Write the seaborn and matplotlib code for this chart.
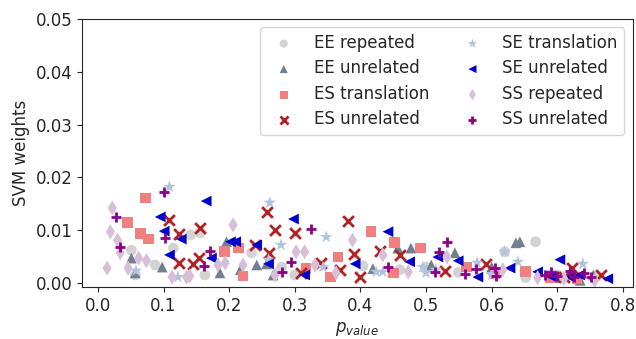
import matplotlib
matplotlib.use("Agg")
import matplotlib.pyplot as plt
import seaborn as sns
import pandas as pd

sns.set_style("ticks")
plt.rcParams['font.family'] = ['DejaVu Sans']
plt.rcParams['font.size'] = 12

# ----------------------------------------------------------------------------
# Data
# ----------------------------------------------------------------------------
ee_rep_x = [0.051, 0.057, 0.087, 0.115, 0.141, 0.156, 0.163, 0.234, 0.28, 0.30,
            0.404, 0.46, 0.50, 0.549, 0.62, 0.667, 0.652, 0.70, 0.73, 0.76]
ee_rep_y = [0.0062, 0.0015, 0.0034, 0.0066, 0.0091, 0.0095, 0.0015, 0.0057, 0.0030, 0.0015,
            0.0032, 0.0025, 0.0030, 0.0020, 0.0059, 0.0078, 0.0010, 0.0015, 0.0005, 0.0012]

ee_unr_x = [0.051, 0.057, 0.098, 0.186, 0.196, 0.217, 0.242, 0.257, 0.267, 0.419,
            0.457, 0.477, 0.508, 0.544, 0.637, 0.643, 0.60, 0.70, 0.735, 0.755]
ee_unr_y = [0.0047, 0.0019, 0.0030, 0.0019, 0.0078, 0.0025, 0.0034, 0.0036, 0.0015, 0.0027,
            0.0066, 0.0066, 0.0034, 0.0057, 0.0076, 0.0078, 0.0030, 0.0010, 0.0005, 0.0015]

es_tr_x = [0.045, 0.065, 0.072, 0.077, 0.193, 0.214, 0.221, 0.317, 0.354, 0.366,
           0.416, 0.45, 0.452, 0.492, 0.562, 0.605, 0.652, 0.69, 0.73]
es_tr_y = [0.0114, 0.0093, 0.0161, 0.0083, 0.0059, 0.0066, 0.0013, 0.0028, 0.0011, 0.0049,
           0.0098, 0.0019, 0.0076, 0.0066, 0.0030, 0.0017, 0.0021, 0.0010, 0.0008]

es_unr_x = [0.109, 0.123, 0.124, 0.145, 0.154, 0.156, 0.24, 0.257, 0.26, 0.27,
            0.30, 0.31, 0.34, 0.369, 0.381, 0.39, 0.40, 0.43, 0.46, 0.529,
            0.591, 0.71, 0.723, 0.766]
es_unr_y = [0.0119, 0.0093, 0.0038, 0.0036, 0.0047, 0.0104, 0.0072, 0.0134, 0.0057, 0.0100,
            0.0095, 0.0019, 0.0038, 0.0025, 0.0117, 0.0055, 0.0011, 0.0061, 0.0053, 0.0023,
            0.0036, 0.0012, 0.0028, 0.0015]

se_tr_x = [0.058, 0.109, 0.122, 0.26, 0.262, 0.279, 0.343, 0.348, 0.424, 0.434,
           0.495, 0.50, 0.515, 0.578, 0.60, 0.62, 0.64, 0.69, 0.739]
se_tr_y = [0.0023, 0.0182, 0.0011, 0.0044, 0.0152, 0.0072, 0.0030, 0.0087, 0.0021, 0.0021,
           0.0030, 0.0019, 0.0025, 0.0038, 0.0015, 0.0059, 0.0040, 0.0020, 0.0036]

se_unr_x = [0.095, 0.101, 0.109, 0.127, 0.165, 0.173, 0.202, 0.21, 0.242, 0.26,
            0.298, 0.315, 0.392, 0.442, 0.475, 0.518, 0.549, 0.579, 0.628, 0.67,
            0.69, 0.704, 0.719, 0.734, 0.777]
se_unr_y = [0.0125, 0.0098, 0.0053, 0.0083, 0.0155, 0.0047, 0.0078, 0.0078, 0.0072, 0.0036,
            0.0121, 0.0015, 0.0036, 0.0097, 0.0040, 0.0049, 0.0042, 0.0011, 0.0028, 0.0021,
            0.0012, 0.0044, 0.0011, 0.0015, 0.0008]

ss_rep_x = [0.014, 0.019, 0.022, 0.030, 0.034, 0.046, 0.062, 0.074, 0.113, 0.135,
            0.14, 0.183, 0.194, 0.206, 0.221, 0.27, 0.302, 0.315, 0.331, 0.363,
            0.388, 0.434, 0.473, 0.532, 0.617, 0.67, 0.71, 0.757]
ss_rep_y = [0.0028, 0.0097, 0.0142, 0.0081, 0.0057, 0.0028, 0.0047, 0.0042, 0.0011, 0.0011,
            0.0013, 0.0034, 0.0038, 0.0110, 0.0034, 0.0015, 0.0059, 0.0059, 0.0034, 0.0019,
            0.0081, 0.0053, 0.0021, 0.0049, 0.0025, 0.0010, 0.0008, 0.0005]

ss_unr_x = [0.027, 0.034, 0.100, 0.103, 0.161, 0.171, 0.28, 0.295, 0.324, 0.442,
            0.514, 0.52, 0.532, 0.559, 0.576, 0.605, 0.606, 0.682, 0.69, 0.70,
            0.72, 0.725, 0.74, 0.751]
ss_unr_y = [0.0125, 0.0068, 0.0172, 0.0085, 0.0032, 0.0061, 0.0021, 0.0040, 0.0102, 0.0030,
            0.0021, 0.0059, 0.0078, 0.0017, 0.0027, 0.0028, 0.0013, 0.0015, 0.0020, 0.0013,
            0.0022, 0.0012, 0.0018, 0.0011]

# label, x, y, marker, colour
series = [
    ("EE repeated", ee_rep_x, ee_rep_y, "o", "lightgray"),
    ("EE unrelated", ee_unr_x, ee_unr_y, "^", "slategray"),
    ("ES translation", es_tr_x, es_tr_y, "s", "lightcoral"),
    ("ES unrelated", es_unr_x, es_unr_y, "x", "firebrick"),
    ("SE translation", se_tr_x, se_tr_y, "*", "lightsteelblue"),
    ("SE unrelated", se_unr_x, se_unr_y, "<", "mediumblue"),
    ("SS repeated", ss_rep_x, ss_rep_y, "d", "thistle"),
    ("SS unrelated", ss_unr_x, ss_unr_y, "+", "darkmagenta"),
]

# ----------------------------------------------------------------------------
# Plot
# ----------------------------------------------------------------------------
fig, ax = plt.subplots(figsize=(6.36, 3.39), dpi=100)

for label, xs, ys, marker, color in series:
    df = pd.DataFrame({"p": xs, "w": ys})
    if marker in ("x", "+"):
        sns.scatterplot(data=df, x="p", y="w", marker=marker, color=color,
                        s=60, linewidth=2, label=label, ax=ax)
    else:
        size = 90 if marker == "*" else 60
        sns.scatterplot(data=df, x="p", y="w", marker=marker, color=color,
                        s=size, edgecolor="none", label=label, ax=ax)

ax.set_ylim(-0.0008, 0.05)
ax.set_yticks([0.0, 0.01, 0.02, 0.03, 0.04, 0.05])
ax.set_xticks([0.0, 0.1, 0.2, 0.3, 0.4, 0.5, 0.6, 0.7, 0.8])
ax.set_xlabel("$p_{value}$")
ax.set_ylabel("SVM weights")
ax.legend(ncol=2, loc="upper right", fontsize=12, markerscale=0.75,
          handletextpad=0.8, columnspacing=1.6, borderpad=0.4, labelspacing=0.45)

fig.subplots_adjust(left=0.129, right=0.995, top=0.944, bottom=0.153)
fig.savefig("out.png", dpi=100)
